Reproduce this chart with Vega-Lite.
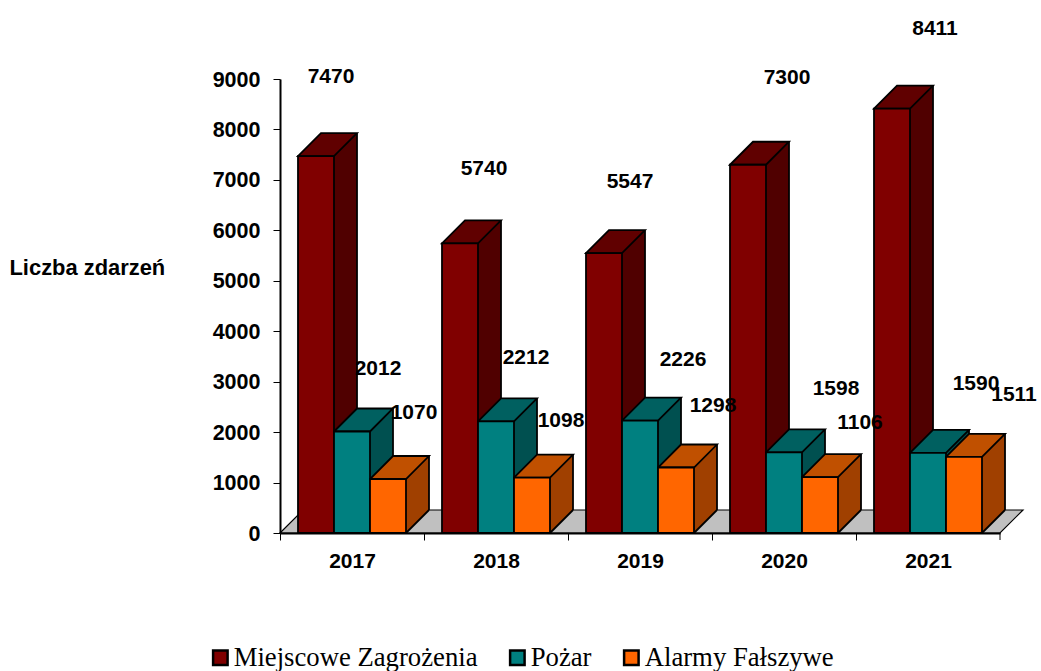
{
"$schema":"https://vega.github.io/schema/vega-lite/v6.json",
"width":720,"height":454,
"autosize":{"type":"none"},
"padding":{"left":280,"top":79,"right":41,"bottom":138},
"background":"white",
"config":{"view":{"stroke":null},"font":"Liberation Sans"},
"data":{"values":[
{"year":"2017","series":"Miejscowe Zagrożenia","value":7470},
{"year":"2017","series":"Pożar","value":2012},
{"year":"2017","series":"Alarmy Fałszywe","value":1070},
{"year":"2018","series":"Miejscowe Zagrożenia","value":5740},
{"year":"2018","series":"Pożar","value":2212},
{"year":"2018","series":"Alarmy Fałszywe","value":1098},
{"year":"2019","series":"Miejscowe Zagrożenia","value":5547},
{"year":"2019","series":"Pożar","value":2226},
{"year":"2019","series":"Alarmy Fałszywe","value":1298},
{"year":"2020","series":"Miejscowe Zagrożenia","value":7300},
{"year":"2020","series":"Pożar","value":1598},
{"year":"2020","series":"Alarmy Fałszywe","value":1106},
{"year":"2021","series":"Miejscowe Zagrożenia","value":8411},
{"year":"2021","series":"Pożar","value":1590},
{"year":"2021","series":"Alarmy Fałszywe","value":1511}
]},
"encoding":{
"x":{"field":"year","type":"nominal","sort":["2017","2018","2019","2020","2021"],"title":null,
 "scale":{"paddingInner":0.25,"paddingOuter":0.125},
 "axis":{"labelAngle":0,"labelFont":"Liberation Sans","labelFontWeight":"bold","labelFontSize":21,"labelColor":"black","labelPadding":10,"labelOffset":72,"domain":true,"domainColor":"black","domainWidth":2,"tickColor":"black","tickWidth":1,"tickSize":7,"tickBand":"center","tickOffset":-72,"zindex":1}},
"xOffset":{"field":"series","type":"nominal","sort":["Miejscowe Zagrożenia","Pożar","Alarmy Fałszywe"],"scale":{"paddingInner":0,"paddingOuter":0}},
"y":{"field":"value","type":"quantitative","stack":null,"title":"Liczba zdarzeń",
 "scale":{"domain":[0,9000],"nice":false,"zero":true},
 "axis":{"values":[0,1000,2000,3000,4000,5000,6000,7000,8000,9000],"grid":false,"format":"d","labelFont":"Liberation Sans","labelFontWeight":"bold","labelFontSize":21.5,"labelColor":"black","labelPadding":13,"labelOffset":1,"domainColor":"black","domainWidth":2,"tickColor":"black","tickWidth":1,"tickSize":7,
 "titleAngle":0,"titleFont":"Liberation Sans","titleFontWeight":"bold","titleFontSize":21.9,"titleColor":"black","titleAlign":"left","titleBaseline":"middle","titleX":-271,"titleY":188.5}}
},
"resolve":{"scale":{"fill":"independent"}},
"layer":[
{"transform":[{"filter":"datum.year=='2019' && datum.series=='Pożar'"}],
 "mark":{"type":"point","filled":true,"opacity":1,"size":4,"fill":"#c0c0c0","stroke":"black","strokeWidth":1.2,"shape":"M-360,0 L-337,-23 L383,-23 L360,0 Z"},
 "encoding":{"y":{"datum":0}}},
{"transform":[{"filter":"datum.year=='2021' && datum.series=='Pożar'"}],
 "mark":{"type":"point","opacity":1,"size":4,"fill":null,"stroke":"black","strokeWidth":1,"shape":"M72,0 L72,7"},
 "encoding":{"y":{"datum":0}}},
{"transform":[{"filter":"datum.series=='Miejscowe Zagrożenia'"}],"mark":{"type":"bar","width":23,"xOffset":-6.5,"y2Offset":-23,"fill":"#500000"},"encoding":{"xOffset":null,"y2":{"datum":0}}},
{"transform":[{"filter":"datum.series=='Pożar'"}],"mark":{"type":"bar","width":23,"xOffset":29.5,"y2Offset":-23,"fill":"#005050"},"encoding":{"xOffset":null,"y2":{"datum":0}}},
{"transform":[{"filter":"datum.series=='Alarmy Fałszywe'"}],"mark":{"type":"bar","width":23,"xOffset":65.5,"y2Offset":-23,"fill":"#a04000"},"encoding":{"xOffset":null,"y2":{"datum":0}}},
{"mark":{"type":"point","filled":true,"opacity":1,"size":4,"strokeWidth":0,"shape":"M18,0 L41,-23 L41,1 L18,1 Z"},
 "encoding":{"fill":{"field":"series","legend":null,"scale":{"domain":["Miejscowe Zagrożenia","Pożar","Alarmy Fałszywe"],"range":["#500000","#005050","#a04000"]}}}},
{"mark":{"type":"point","filled":true,"opacity":1,"size":4,"strokeWidth":0,"shape":"M18,-24 L41,-24 L41,-23 L18,0 Z"},
 "encoding":{"y":{"datum":0},"fill":{"field":"series","legend":null,"scale":{"domain":["Miejscowe Zagrożenia","Pożar","Alarmy Fałszywe"],"range":["#500000","#005050","#a04000"]}}}},
{"transform":[{"filter":"datum.series=='Miejscowe Zagrożenia'"}],"mark":{"type":"bar","width":1.8,"fill":"black","xOffset":5,"yOffset":-23,"y2Offset":-23},"encoding":{"xOffset":null,"y2":{"datum":0}}},
{"transform":[{"filter":"datum.series=='Pożar'"}],"mark":{"type":"bar","width":1.8,"fill":"black","xOffset":41,"yOffset":-23,"y2Offset":-23},"encoding":{"xOffset":null,"y2":{"datum":0}}},
{"transform":[{"filter":"datum.series=='Alarmy Fałszywe'"}],"mark":{"type":"bar","width":1.8,"fill":"black","xOffset":77,"yOffset":-23,"y2Offset":-23},"encoding":{"xOffset":null,"y2":{"datum":0}}},
{"mark":{"type":"point","opacity":1,"size":4,"fill":null,"stroke":"black","strokeWidth":1.8,"shape":"M18,0 L41,-23"},
 "encoding":{"y":{"datum":0}}},
{"mark":{"type":"point","filled":true,"opacity":1,"size":4,"stroke":"black","strokeWidth":1.8,"shape":"M-18,0 L5,-23 L41,-23 L18,0 Z"},
 "encoding":{"fill":{"field":"series","legend":null,"scale":{"domain":["Miejscowe Zagrożenia","Pożar","Alarmy Fałszywe"],"range":["#600000","#006060","#c05000"]}}}},
{"mark":{"type":"bar","stroke":"black","strokeWidth":1.8},
 "encoding":{"y2":{"datum":0},"fill":{"field":"series","title":null,
  "scale":{"domain":["Miejscowe Zagrożenia","Pożar","Alarmy Fałszywe"],"range":["#800000","#008080","#ff6600"]},
  "legend":{"orient":"none","legendX":-73,"legendY":565,"direction":"horizontal","columns":3,"columnPadding":26,"symbolType":"square","symbolSize":210,"symbolStrokeColor":"black","symbolStrokeWidth":2.5,"labelFont":"Liberation Serif","labelFontSize":26.7,"labelColor":"black","labelOffset":0,"labelLimit":400,"values":["Miejscowe Zagrożenia","Pożar","Alarmy Fałszywe"]}}}},
{"transform":[{"filter":"datum.year=='2017' && datum.series=='Miejscowe Zagrożenia'"}],"mark":{"type":"text","dx":15,"dy":-79.5,"font":"Liberation Sans","fontWeight":"bold","fontSize":21,"color":"black"},"encoding":{"text":{"field":"value"}}},
{"transform":[{"filter":"datum.year=='2018' && datum.series=='Miejscowe Zagrożenia'"}],"mark":{"type":"text","dx":24,"dy":-74,"font":"Liberation Sans","fontWeight":"bold","fontSize":21,"color":"black"},"encoding":{"text":{"field":"value"}}},
{"transform":[{"filter":"datum.year=='2019' && datum.series=='Miejscowe Zagrożenia'"}],"mark":{"type":"text","dx":26,"dy":-71,"font":"Liberation Sans","fontWeight":"bold","fontSize":21,"color":"black"},"encoding":{"text":{"field":"value"}}},
{"transform":[{"filter":"datum.year=='2020' && datum.series=='Miejscowe Zagrożenia'"}],"mark":{"type":"text","dx":39,"dy":-87,"font":"Liberation Sans","fontWeight":"bold","fontSize":21,"color":"black"},"encoding":{"text":{"field":"value"}}},
{"transform":[{"filter":"datum.year=='2021' && datum.series=='Miejscowe Zagrożenia'"}],"mark":{"type":"text","dx":43,"dy":-80,"font":"Liberation Sans","fontWeight":"bold","fontSize":21,"color":"black"},"encoding":{"text":{"field":"value"}}},
{"transform":[{"filter":"datum.year=='2017' && datum.series=='Pożar'"}],"mark":{"type":"text","dx":26,"dy":-63,"font":"Liberation Sans","fontWeight":"bold","fontSize":21,"color":"black"},"encoding":{"text":{"field":"value"}}},
{"transform":[{"filter":"datum.year=='2018' && datum.series=='Pożar'"}],"mark":{"type":"text","dx":30,"dy":-63.5,"font":"Liberation Sans","fontWeight":"bold","fontSize":21,"color":"black"},"encoding":{"text":{"field":"value"}}},
{"transform":[{"filter":"datum.year=='2019' && datum.series=='Pożar'"}],"mark":{"type":"text","dx":43,"dy":-61,"font":"Liberation Sans","fontWeight":"bold","fontSize":21,"color":"black"},"encoding":{"text":{"field":"value"}}},
{"transform":[{"filter":"datum.year=='2020' && datum.series=='Pożar'"}],"mark":{"type":"text","dx":52,"dy":-63.5,"font":"Liberation Sans","fontWeight":"bold","fontSize":21,"color":"black"},"encoding":{"text":{"field":"value"}}},
{"transform":[{"filter":"datum.year=='2021' && datum.series=='Pożar'"}],"mark":{"type":"text","dx":48,"dy":-69,"font":"Liberation Sans","fontWeight":"bold","fontSize":21,"color":"black"},"encoding":{"text":{"field":"value"}}},
{"transform":[{"filter":"datum.year=='2017' && datum.series=='Alarmy Fałszywe'"}],"mark":{"type":"text","dx":26,"dy":-66,"font":"Liberation Sans","fontWeight":"bold","fontSize":21,"color":"black"},"encoding":{"text":{"field":"value"}}},
{"transform":[{"filter":"datum.year=='2018' && datum.series=='Alarmy Fałszywe'"}],"mark":{"type":"text","dx":29,"dy":-57,"font":"Liberation Sans","fontWeight":"bold","fontSize":21,"color":"black"},"encoding":{"text":{"field":"value"}}},
{"transform":[{"filter":"datum.year=='2019' && datum.series=='Alarmy Fałszywe'"}],"mark":{"type":"text","dx":37,"dy":-62,"font":"Liberation Sans","fontWeight":"bold","fontSize":21,"color":"black"},"encoding":{"text":{"field":"value"}}},
{"transform":[{"filter":"datum.year=='2020' && datum.series=='Alarmy Fałszywe'"}],"mark":{"type":"text","dx":40,"dy":-54,"font":"Liberation Sans","fontWeight":"bold","fontSize":21,"color":"black"},"encoding":{"text":{"field":"value"}}},
{"transform":[{"filter":"datum.year=='2021' && datum.series=='Alarmy Fałszywe'"}],"mark":{"type":"text","dx":50,"dy":-62,"font":"Liberation Sans","fontWeight":"bold","fontSize":21,"color":"black"},"encoding":{"text":{"field":"value"}}}
]
}
